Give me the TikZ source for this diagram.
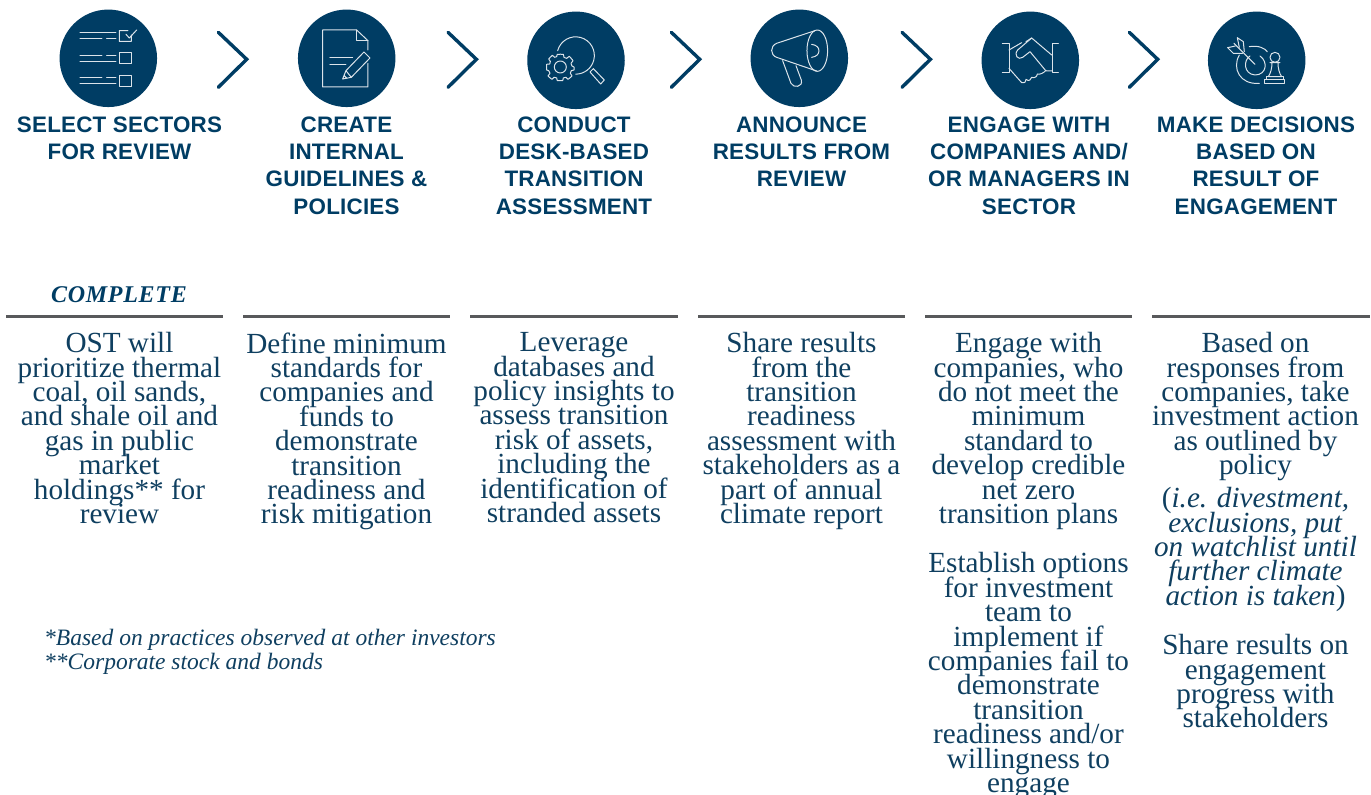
\documentclass[tikz,border=0pt]{standalone}
\usepackage{fontspec}
\setmainfont{Liberation Serif}
\newfontfamily\headfont[LetterSpace=1]{Liberation Sans}
\newfontfamily\tagfont[LetterSpace=3]{Liberation Serif}
\usetikzlibrary{calc}
\definecolor{navy}{HTML}{003D64}
\definecolor{inktext}{HTML}{0F3F60}
\definecolor{rulegrey}{HTML}{58595B}
\definecolor{iconline}{HTML}{DCE4EA}
\lineskiplimit=-100pt
\normallineskiplimit=-100pt
\tikzset{
  x=1pt,y=-1pt,
  disc/.style={circle,fill=navy,draw=none,minimum size=97.5pt,inner sep=0pt},
  chev/.style={draw=navy,line width=3.4pt,line cap=round,line join=miter},
  head/.style={anchor=north,align=center,inner sep=0pt,text=navy,font=\headfont\bfseries\fontsize{22.4}{27.3}\selectfont,execute at begin node={\rule{0pt}{17pt}}},
  body/.style={anchor=north,align=center,inner sep=0pt,text=inktext,font=\fontsize{29.2}{24.4}\selectfont,execute at begin node={\rule{0pt}{22pt}}},
  foot/.style={anchor=north west,align=left,inner sep=0pt,text=inktext,font=\itshape\fontsize{23.5}{24.2}\selectfont},
  tagtext/.style={anchor=center,inner sep=0pt,text=navy,font=\tagfont\bfseries\itshape\fontsize{24}{24}\selectfont},
  sep/.style={draw=rulegrey,line width=3pt},
  ic/.style={draw=iconline,line width=1pt,line join=round,line cap=round},
}
\newcommand{\bl}[1]{\\[#1pt]}
\begin{document}
\begin{tikzpicture}
\useasboundingbox (0,0) rectangle (1371,795);
\fill[white] (0,0) rectangle (1371,795);
% discs
\node[disc] (d1) at (108.3,58.3) {};
\node[disc] (d2) at (346.7,58.3) {};
\node[disc] (d3) at (576,60.3) {};
\node[disc] (d4) at (799.3,58.3) {};
\node[disc] (d5) at (1030.3,60.3) {};
\node[disc] (d6) at (1256.7,60.3) {};
% chevrons
\draw[chev] (218.3,32.3) -- (246.7,59.3) -- (218.3,87.3);
\draw[chev] (448,32.3) -- (476.4,59.3) -- (448,87.3);
\draw[chev] (671.3,32.3) -- (699.7,59.3) -- (671.3,87.3);
\draw[chev] (902,32.3) -- (930.4,59.3) -- (902,87.3);
\draw[chev] (1129.3,32.3) -- (1157.7,59.3) -- (1129.3,87.3);
% icon 1
\begin{scope}[shift={(40,0)},x=0.3333pt,y=-0.3333pt,ic]
\draw (120,98)--(228,98) (120,116)--(186,116) (200,116)--(228,116);
\draw (264,92)--(238,92)--(238,124)--(274,124)--(274,105) (258,103)--(268,114)--(290,90);
\draw (120,166)--(186,166) (200,166)--(228,166) (120,185)--(228,185);
\draw (238,158) rectangle (274,192);
\draw (120,234)--(186,234) (200,234)--(228,234) (120,252)--(228,252);
\draw (238,226) rectangle (274,260);
\end{scope}
% icon 2
\begin{scope}[shift={(40,0)},x=0.3333pt,y=-0.3333pt,ic]
\draw (984,190)--(984,261)--(848,261)--(848,90)--(950,90)--(984,122)--(984,150);
\draw (950,90)--(950,122)--(984,122);
\draw (870,173)--(938,173) (870,193)--(918,193);
\draw (908,237)--(918,212)--(972,156)--(990,174)--(934,232)--cycle (918,212)--(934,232) (912,226)--(921,235);
\end{scope}
% icon 3
\begin{scope}[shift={(500,0)},x=0.3333pt,y=-0.3333pt,ic]
\draw (173,152) arc[start angle=-165,end angle=90,radius=56];
\draw (270,216)--(280,206)--(313,240)--(302,252)--cycle;
\draw (181,201) circle[radius=18];
\draw plot[smooth cycle,tension=0.15] coordinates {
 (172,163)(190,163)(192,172)(200,175)(208,169)(219,182)(213,190)(216,198)(222,201)(222,210)(214,212)(211,220)(216,228)(204,238)(198,232)(190,234)(188,242)(172,242)(170,234)(162,232)(156,238)(144,228)(150,220)(146,212)(140,210)(140,193)(149,192)(151,184)(146,177)(157,166)(164,172)(170,170)};
\end{scope}
% icon 4
\begin{scope}[shift={(500,0)},x=0.3333pt,y=-0.3333pt,ic]
\draw (945,92)--(830,130) .. controls (810,138) and (810,165) .. (830,172)--(950,213);
\draw (952,152) ellipse[x radius=31,y radius=62];
\draw (935,133) .. controls (950,135) and (957,143) .. (957,152) .. controls (957,162) and (950,170) .. (935,172);
\draw (848,182)--(873,250) .. controls (880,265) and (910,262) .. (904,240)--(888,197);
\end{scope}
% icon 5
\begin{scope}[shift={(950,0)},x=0.3333pt,y=-0.3333pt,ic]
\draw (157,130)--(177,130)--(177,217)--(157,217);
\draw (325,130)--(307,130)--(307,217)--(325,217);
\draw (177,150)--(215,128) (228,125)--(245,114)--(305,165);
\draw (245,114)--(203,150) .. controls (190,165) and (205,182) .. (218,172)--(240,155)--(288,213)--(307,213);
\draw (177,205)--(215,248) .. controls (225,250) and (228,245) .. (228,238) .. controls (235,245) and (245,240) .. (245,232) .. controls (252,236) and (262,230) .. (262,222) .. controls (270,225) and (282,218) .. (288,211);
\end{scope}
% icon 6
\begin{scope}[shift={(950,0)},x=0.3333pt,y=-0.3333pt,ic]
\draw (915,193)--(852,130);
\draw (868,142)--(862,113)--(880,125)--(883,155) (856,138)--(833,143)--(850,160)--(878,160);
\draw (900,168) .. controls (880,180) and (880,222) .. (915,225) .. controls (950,225) and (955,185) .. (930,168);
\draw (898,140) .. controls (925,135) and (945,145) .. (952,155);
\draw (868,165) .. controls (845,205) and (870,255) .. (928,250);
\draw (975,172) circle[radius=15];
\draw (960,188)--(990,188) (966,188) .. controls (966,205) and (962,220) .. (955,230)--(995,230) .. controls (988,220) and (984,205) .. (984,188);
\draw (950,230) rectangle (1000,240);
\draw (943,240) rectangle (1005,250);
\end{scope}
% headings
\node[head] (h1) at (119.5,116.3) {SELECT SECTORS\\FOR REVIEW};
\node[head] (h2) at (346.5,116.3) {CREATE\\INTERNAL\\GUIDELINES \&\\POLICIES};
\node[head] (h3) at (574,116.3) {CONDUCT\\DESK-BASED\\TRANSITION\\ASSESSMENT};
\node[head] (h4) at (801.5,116.3) {ANNOUNCE\\RESULTS FROM\\REVIEW};
\node[head] (h5) at (1029,116.3) {ENGAGE WITH\\COMPANIES AND/\\OR MANAGERS IN\\SECTOR};
\node[head] (h6) at (1256,116.3) {MAKE DECISIONS\\BASED ON\\RESULT OF\\ENGAGEMENT};
% tag and rules
\node[tagtext] (tag) at (119,295) {COMPLETE};
\draw[sep] (6,316.3) -- (223,316.3);
\draw[sep] (243,316.3) -- (450,316.3);
\draw[sep] (470,316.3) -- (678,316.3);
\draw[sep] (698,316.3) -- (905,316.3);
\draw[sep] (925,316.3) -- (1132,316.3);
\draw[sep] (1152,316.3) -- (1370,316.3);
% body
\node[body] (b1) at (119.5,332.3) {OST will\\prioritize thermal\\coal, oil sands,\\and shale oil and\\gas in public\\market\\holdings** for\\review};
\node[body] (b2) at (346.5,332.3) {Define minimum\\standards for\\companies and\\funds to\\demonstrate\\transition\\readiness and\\risk mitigation};
\node[body] (b3) at (574,332.3) {Leverage\\databases and\\policy insights to\\assess transition\\risk of assets,\\including the\\identification of\\stranded assets};
\node[body] (b4) at (801.5,332.3) {Share results\\from the\\transition\\readiness\\assessment with\\stakeholders as a\\part of annual\\climate report};
\node[body] (b5) at (1028.5,332.3) {Engage with\\companies, who\\do not meet the\\minimum\\standard to\\develop credible\\net zero\\transition plans\bl{25}Establish options\\for investment\\team to\\implement if\\companies fail to\\demonstrate\\transition\\readiness and/or\\willingness to\\engage};
\node[body] (b6) at (1255.5,332.3) {Based on\\responses from\\companies, take\\investment action\\as outlined by\\policy\bl{8.6}(\textit{i.e. divestment,}\\\textit{exclusions, put}\\\textit{on watchlist until}\\\textit{further climate}\\\textit{action is taken})\bl{25}Share results on\\engagement\\progress with\\stakeholders};
\node[foot] (f1) at (44,629) {*Based on practices observed at other investors\\**Corporate stock and bonds};
\end{tikzpicture}
\end{document}
